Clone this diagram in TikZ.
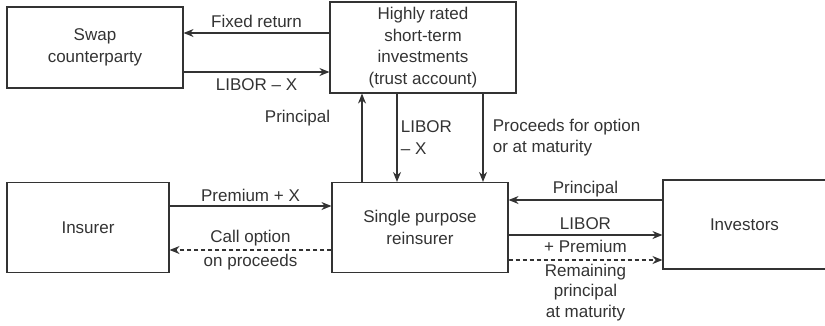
\documentclass[tikz,border=0pt]{standalone}
\usepackage{fontspec}
\setmainfont{Liberation Sans}
\usetikzlibrary{arrows.meta}
\definecolor{ink}{HTML}{333333}

\begin{document}
\begin{tikzpicture}[
	x=1pt, y=-1pt, color=ink,
	font=\fontsize{17}{21.5}\selectfont,
	box/.style={ draw, line width=1.1pt, align=center, inner sep=0pt },
	flow/.style={ draw, line width=1.1pt, -{Stealth[length=10pt,width=8pt]} },
	flowd/.style={ flow, dash pattern=on 4pt off 3pt }
]
\useasboundingbox (0,0) rectangle (825,325);

\node at (95,47.5) (swap) [box,minimum width=176pt,minimum height=81pt] {Swap\\counterparty};
\node at (423,47.5) (trust) [box,minimum width=186pt,minimum height=91pt] {Highly rated\\short-term\\investments\\(trust account)};
\node at (88,227.5) (insurer) [box,minimum width=162pt,minimum height=90pt] {Insurer};
\node at (420,227.5) (spr) [box,minimum width=176pt,minimum height=90pt] {Single purpose\\reinsurer};
\node at (744.5,224.5) (investors) [box,minimum width=163pt,minimum height=89pt] {Investors};

\draw[flow] (trust.west |- 0,33) to node[above=1pt] {Fixed return} (swap.east |- 0,33);
\draw[flow] (swap.east |- 0,72) to node[below=3pt] {LIBOR \textendash\ X} (trust.west |- 0,72);

\draw[flow] (spr.north -| 362,0) to node[pos=0.72,left=28pt] {Principal} (trust.south -| 362,0);
\draw[flow] (trust.south -| 397,0) to node[midway,right,align=left] {LIBOR\\\textendash\ X} (spr.north -| 397,0);
\draw[flow] (trust.south -| 483,0) to node[midway,right=6pt,align=left] {Proceeds for option\\or at maturity} (spr.north -| 483,0);

\draw[flow] (insurer.east |- 0,206) to node[above] {Premium + X} (spr.west |- 0,206);
\draw[flowd] (spr.west |- 0,250) to node[align=center] {Call option\\[2.5pt]on proceeds} (insurer.east |- 0,250);

\draw[flow] (investors.west |- 0,200) to node[above=-1pt] {Principal} (spr.east |- 0,200);
\draw[flow] (spr.east |- 0,235) to node[align=center] {LIBOR\\[1pt]+ Premium} (investors.west |- 0,235);
\draw[flowd] (spr.east |- 0,260) to node[below,align=center] {Remaining\\[-1pt]principal\\[-1pt]at maturity} (investors.west |- 0,260);

\end{tikzpicture}
\end{document}
